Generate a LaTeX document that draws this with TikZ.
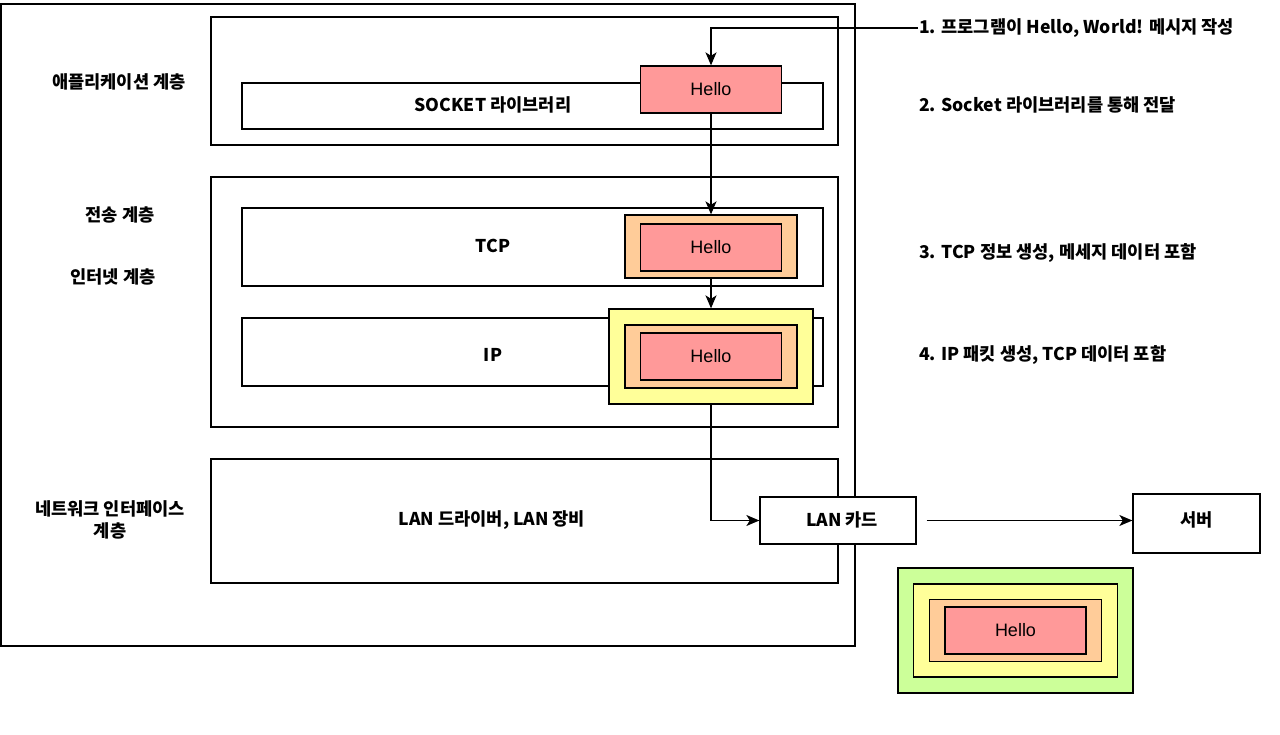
\documentclass[tikz,border=0pt]{standalone}
\usepackage{fontspec}
\setmainfont{Liberation Sans}
\newfontfamily\krfont{Noto Sans CJK KR}
\usetikzlibrary{arrows.meta}
\definecolor{hellored}{HTML}{FF9999}
\definecolor{tcporange}{HTML}{FFCC99}
\definecolor{ipyellow}{HTML}{FFFF99}
\definecolor{langreen}{HTML}{CCFF99}
\begin{document}
\begin{tikzpicture}[x=1pt,y=-1pt]
		\useasboundingbox (0,0) rectangle (1280,735);
		
		\tikzstyle{layerbox}=[rectangle,
		draw=black,
		line width=1.3pt,
		fill=white,
		inner sep=0pt
		]
		\tikzstyle{hellobox}=[layerbox,
		fill=hellored,
		minimum width=141pt,
		minimum height=47pt,
		font=\fontsize{18}{20}\selectfont
		]
		\tikzstyle{krlabel}=[inner sep=1pt,
		font=\krfont\bfseries\fontsize{17.6}{22}\selectfont
		]
		\tikzstyle{arr}=[line width=1.3pt,
		-{Stealth[length=13pt,width=11pt,inset=3.5pt]}
		]
		
		% layers
		\node[layerbox, minimum width=854pt, minimum height=642pt] (host) at (428, 325) {};
		\node[layerbox, minimum width=627pt, minimum height=128pt] (app) at (524.5, 81) {};
		\node[layerbox, minimum width=581pt, minimum height=46pt] (socket) at (532.5, 106) {};
		\node[layerbox, minimum width=627pt, minimum height=250pt] (trans) at (524.5, 302) {};
		\node[layerbox, minimum width=581pt, minimum height=78pt] (tcp) at (532.5, 247) {};
		\node[layerbox, minimum width=581pt, minimum height=68pt] (ip) at (532.5, 352) {};
		\node[layerbox, minimum width=627pt, minimum height=124pt] (net) at (524.5, 521) {};
		
		\node[layerbox, minimum width=156pt, minimum height=47pt] (lan) at (838, 520.5) {};
		\node[layerbox, minimum width=127pt, minimum height=59pt] (server) at (1196.5, 523.5) {};
		
		% encapsulated messages
		\node[hellobox] (hello1) at (711, 89.5) {Hello};
		
		\node[layerbox, fill=tcporange, minimum width=172pt, minimum height=63pt] (tcpo) at (711, 246.5) {};
		\node[hellobox] (hello2) at (711, 247.5) {Hello};
		
		\node[layerbox, fill=ipyellow, minimum width=204pt, minimum height=95pt] (ipy) at (711, 356.5) {};
		\node[layerbox, fill=tcporange, minimum width=172pt, minimum height=63pt] (ipo) at (711, 356.5) {};
		\node[hellobox] (hello3) at (711, 356.5) {Hello};
		
		\node[layerbox, fill=langreen, minimum width=235pt, minimum height=125pt] (frg) at (1015.5, 630.5) {};
		\node[layerbox, fill=ipyellow, minimum width=204pt, minimum height=93pt] (fry) at (1015.5, 630.5) {};
		\node[layerbox, fill=tcporange, minimum width=172pt, minimum height=62pt] (fro) at (1015.5, 630.5) {};
		\node[hellobox] (hello4) at (1015.5, 630.5) {Hello};
		
		% labels
		\node[krlabel] (lapp) at (119, 82) {애플리케이션 계층};
		\node[krlabel] (ltrans) at (120, 215) {전송 계층};
		\node[krlabel] (lip) at (113, 277) {인터넷 계층};
		\node[krlabel, align=center] (lnet) at (110, 520) {네트워크 인터페이스\\계층};
		
		\node[krlabel] (tsocket) at (493, 105) {SOCKET 라이브러리};
		\node[krlabel] (ttcp) at (493, 246) {TCP};
		\node[krlabel] (tip) at (493, 355) {IP};
		\node[krlabel] (tnet) at (492, 520) {LAN 드라이버, LAN 장비};
		\node[krlabel] (tlan) at (842, 520) {LAN 카드};
		\node[krlabel] (tserver) at (1196.5, 520) {서버};
		
		\node[krlabel, anchor=west] (step1) at (918, 28) {1. 프로그램이 Hello, World! 메시지 작성};
		\node[krlabel, anchor=west] (step2) at (918, 105) {2. Socket 라이브러리를 통해 전달};
		\node[krlabel, anchor=west] (step3) at (918, 253) {3. TCP 정보 생성, 메세지 데이터 포함};
		\node[krlabel, anchor=west] (step4) at (918, 355) {4. IP 패킷 생성, TCP 데이터 포함};
		
		% flow
		\draw[arr] (step1.west) -| (hello1.north);
		\draw[arr] (hello1.south) -- (tcpo.north);
		\draw[arr] (tcpo.south) -- (ipy.north);
		\draw[arr] (ipy.south) |- (lan.west);
		\draw[arr] ([xshift=10pt]lan.east) -- (lan.east -| server.west);
		
		\end{tikzpicture}
\end{document}
